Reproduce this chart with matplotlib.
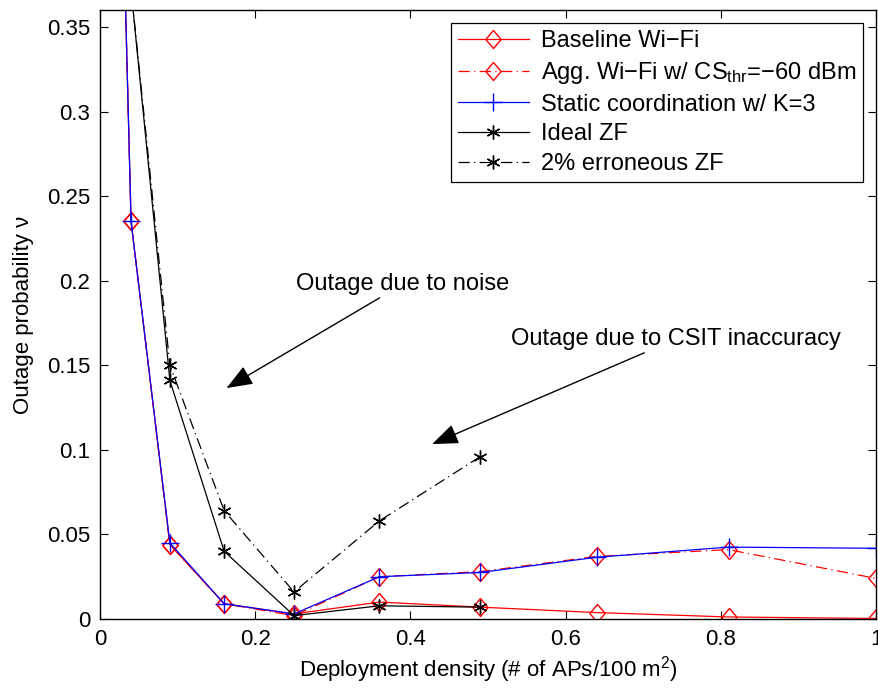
import matplotlib
matplotlib.use("Agg")
from matplotlib import pyplot as plt

plt.rcParams['font.family'] = ['Liberation Sans', 'DejaVu Sans']
plt.rcParams['mathtext.fontset'] = 'custom'
plt.rcParams['mathtext.rm'] = 'Liberation Sans'
plt.rcParams['mathtext.it'] = 'Liberation Sans'

# deployment density (APs / 100 m^2)
density = [0.01, 0.04, 0.09, 0.16, 0.25, 0.36, 0.49, 0.64, 0.81, 1.0]
baseline = [0.77, 0.235, 0.044, 0.009, 0.003, 0.010, 0.007, 0.0038, 0.0012, 0.0003]
agg_wifi = [0.77, 0.235, 0.044, 0.009, 0.002, 0.025, 0.028, 0.037, 0.041, 0.024]
static_k3 = [0.77, 0.235, 0.045, 0.009, 0.003, 0.025, 0.0275, 0.0365, 0.0425, 0.0418]

density_zf = [0.04, 0.09, 0.16, 0.25, 0.36, 0.49]
ideal_zf = [0.372, 0.141, 0.040, 0.002, 0.0078, 0.007]
err_zf = [0.372, 0.150, 0.064, 0.016, 0.058, 0.096]

xticks = [0, 0.2, 0.4, 0.6, 0.8, 1.0]
xtick_labels = ["0", "0.2", "0.4", "0.6", "0.8", "1"]
yticks = [0, 0.05, 0.1, 0.15, 0.2, 0.25, 0.3, 0.35]
ytick_labels = ["0", "0.05", "0.1", "0.15", "0.2", "0.25", "0.3", "0.35"]

dashdot = (0, (9, 3.5, 1, 3.5))
star = (6, 2, 0)
diamond = [(0, 1), (0.85, 0), (0, -1), (-0.85, 0), (0, 1)]

fig = plt.figure(figsize=(8.79, 6.92), dpi=100)
ax = fig.add_axes([0.1138, 0.1055, 0.8828, 0.880])

ax.plot(density, baseline, color="red", lw=0.9, marker=diamond, ms=13,
        mfc="none", mec="red", mew=1.0, label="Baseline Wi\u2212Fi")
ax.plot(density, agg_wifi, color="red", lw=0.9, ls=dashdot, marker=diamond, ms=13,
        mfc="none", mec="red", mew=1.0,
        label="Agg. Wi\u2212Fi w/ CS$_{\\mathrm{thr}}$=\u221260 dBm")
ax.plot(density, static_k3, color="blue", lw=0.9, marker="+", ms=13, mew=1.0,
        label="Static coordination w/ K=3")
ax.plot(density_zf, ideal_zf, color="black", lw=0.9, marker=star, ms=10, mew=1.0,
        label="Ideal ZF")
ax.plot(density_zf, err_zf, color="black", lw=0.9, ls=dashdot, marker=star, ms=10,
        mew=1.0, label="2% erroneous ZF")

arrow = dict(arrowstyle="-|>,head_length=0.9,head_width=0.35", color="black",
             lw=1.0, shrinkA=0, shrinkB=0, mutation_scale=18)
ax.annotate("Outage due to noise", xy=(0.163, 0.1365), xytext=(0.253, 0.1915),
            fontsize=17, ha="left", va="bottom", arrowprops=arrow)
ax.annotate("Outage due to CSIT inaccuracy", xy=(0.428, 0.1034), xytext=(0.530, 0.159),
            fontsize=17, ha="left", va="bottom", arrowprops=arrow)

ax.set_xlim(0, 1)
ax.set_ylim(0, 0.36)
ax.set_xticks(xticks)
ax.set_xticklabels(xtick_labels)
ax.set_yticks(yticks)
ax.set_yticklabels(ytick_labels)
ax.tick_params(direction="in", top=True, right=True, length=6, width=0.8,
               labelsize=16, pad=7)
for s in ax.spines.values():
    s.set_linewidth(1.0)

ax.set_xlabel("Deployment density (# of APs/100 m$^2$)", fontsize=16, labelpad=3)
ax.set_ylabel("Outage probability \u03bd", fontsize=16, labelpad=9)

leg = ax.legend(loc="upper right", fontsize=17, fancybox=False, framealpha=1,
                edgecolor="black", handlelength=3.0, borderaxespad=0.55,
                labelspacing=0.33, handletextpad=0.5, borderpad=0.3,
                numpoints=1)
leg.get_frame().set_linewidth(0.9)

plt.savefig("out.png", dpi=100)
